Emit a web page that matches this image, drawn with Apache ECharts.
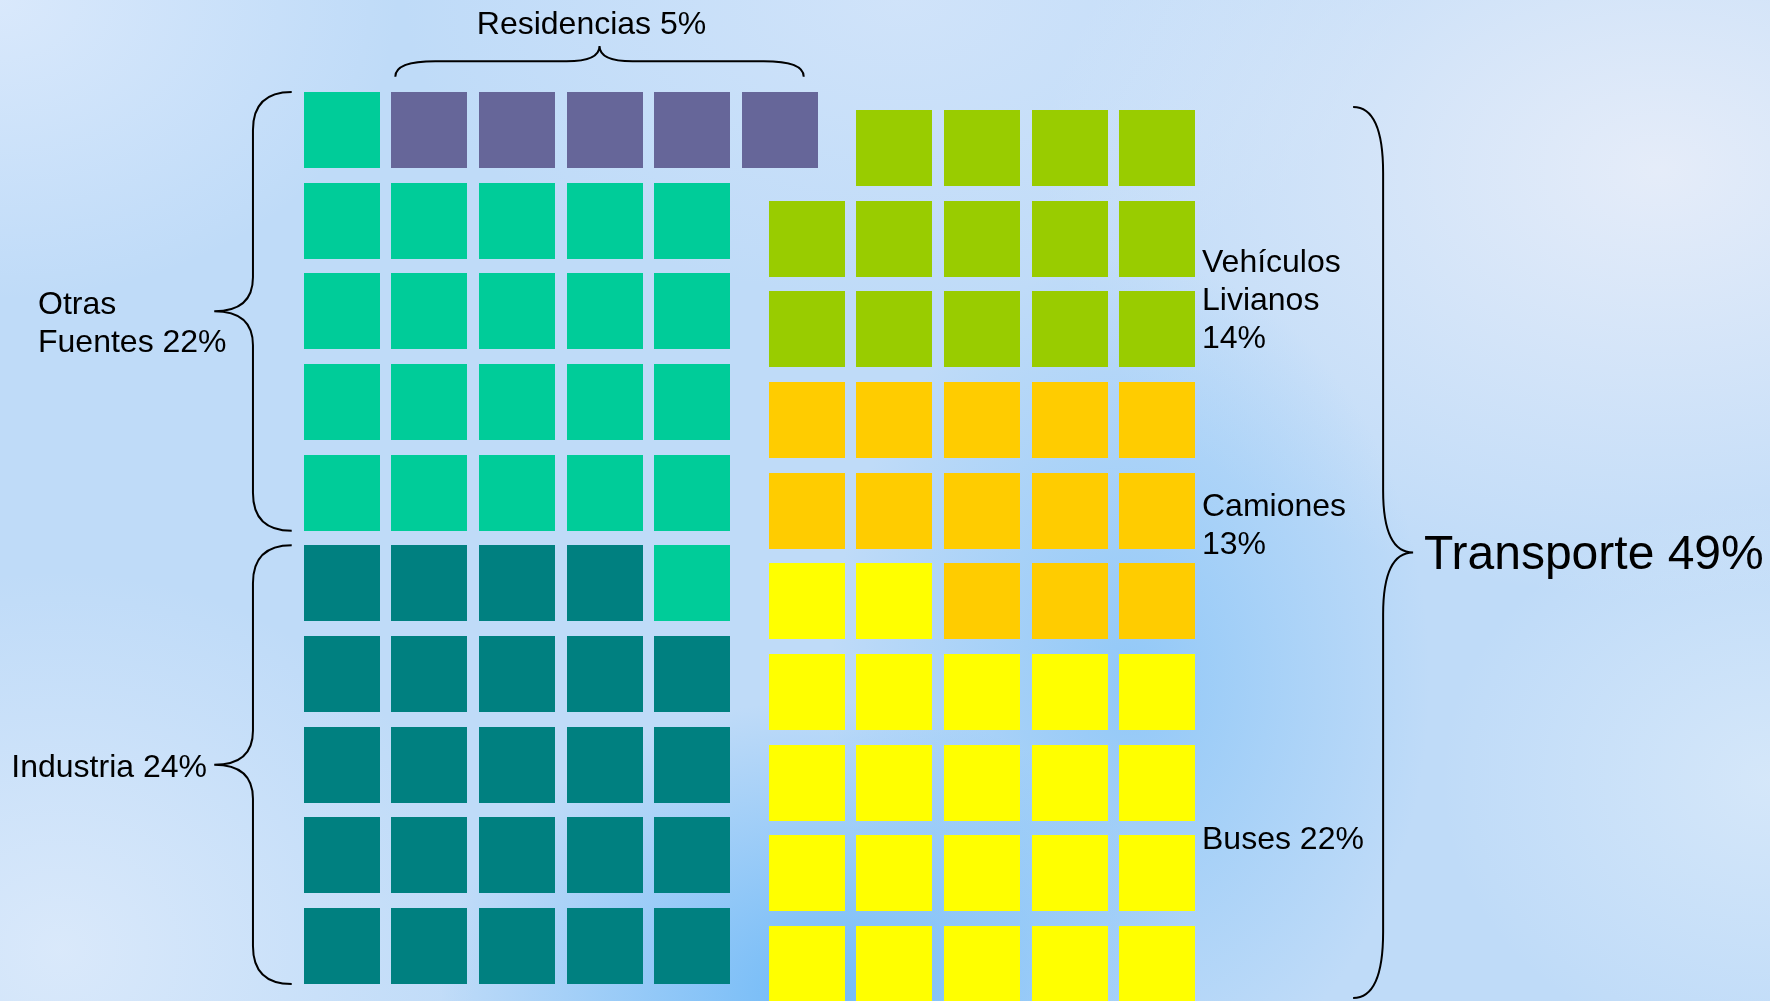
<!DOCTYPE html>
<html>
<head>
<meta charset="utf-8">
<title>Fuentes de emisión</title>
<script src="https://cdn.jsdelivr.net/npm/echarts@6/dist/echarts.min.js"></script>
<style>
  html, body { margin: 0; padding: 0; width: 1770px; height: 1001px; overflow: hidden; }
  #chart {
    width: 1770px; height: 1001px;
    background:
      radial-gradient(ellipse 380px 300px at 820px 1001px, rgba(108,184,247,0.95), rgba(108,184,247,0)),
      radial-gradient(ellipse 300px 420px at 1130px 680px, rgba(138,197,247,0.85), rgba(138,197,247,0)),
      radial-gradient(ellipse 620px 430px at 1660px 170px, rgba(233,238,249,0.9), rgba(233,238,249,0)),
      radial-gradient(ellipse 330px 280px at 1770px 780px, rgba(222,236,250,0.7), rgba(222,236,250,0)),
      radial-gradient(ellipse 420px 380px at 60px 950px, rgba(222,235,251,0.85), rgba(222,235,251,0)),
      radial-gradient(ellipse 400px 300px at 0px 0px, rgba(220,234,252,0.9), rgba(220,234,252,0)),
      radial-gradient(ellipse 500px 300px at 900px 0px, rgba(212,229,250,0.8), rgba(212,229,250,0)),
      #bfdbf8;
  }
</style>
</head>
<body>
<div id="chart"></div>
<script>
// Emission sources; one cell per percentage point
const sources = ['Otras Fuentes', 'Residencias', 'Industria', 'Vehículos Livianos', 'Camiones', 'Buses'];
const shares  = [22, 5, 24, 14, 13, 22];

// Order in which each block is filled, bottom row first, left to right
const leftStack  = ['Industria', 'Otras Fuentes', 'Residencias'];
const rightStack = ['Buses', 'Camiones', 'Vehículos Livianos'];
const groupName  = 'Transporte';

const palette = {
  'Otras Fuentes': '#00CC99',
  'Residencias': '#666699',
  'Industria': '#008080',
  'Vehículos Livianos': '#99CC00',
  'Camiones': '#FFCC00',
  'Buses': '#FFFF00'
};

const shareOf = name => shares[sources.indexOf(name)];

// Grid geometry in axis units: one x unit = one column step, one y unit = one row step
const COLS = 5, ROWS = 10;
const CELL_W = 0.8676, CELL_H = 0.838;
const RIGHT_X = 5.308, RIGHT_Y = -0.1985;

// 'extend': cells past the 5x10 grid continue the top row to the right
// 'alignRight': an incomplete top row is pushed against the right edge
function placeBlock(stack, originX, originY, mode) {
  const total = stack.reduce((s, n) => s + shareOf(n), 0);
  const lastRow = Math.floor((total - 1) / COLS);
  const rem = total % COLS;
  const cells = [];
  let i = 0;
  stack.forEach(name => {
    for (let k = 0; k < shareOf(name); k++, i++) {
      let row = Math.floor(i / COLS), col = i % COLS;
      if (mode === 'extend' && row >= ROWS) { row = ROWS - 1; col = COLS + (i - ROWS * COLS); }
      if (mode === 'alignRight' && row === lastRow && rem) col += COLS - rem;
      cells.push({ name, row, col, x: originX + col, y: originY + row });
    }
  });
  return cells;
}

const leftCells = placeBlock(leftStack, 0, 0, 'extend');
const rightCells = placeBlock(rightStack, RIGHT_X, RIGHT_Y, 'alignRight');
const allCells = leftCells.concat(rightCells);

// Rows in which `name` has more cells than each rival
function majorityRows(cells, name, rivals) {
  const rows = [];
  for (let r = 0; r < ROWS; r++) {
    const inRow = cells.filter(c => c.row === r);
    const count = n => inRow.filter(c => c.name === n).length;
    if (rivals.every(o => count(name) > count(o))) rows.push(r);
  }
  return [Math.min(...rows), Math.max(...rows)];
}

const otrasRows = majorityRows(leftCells, 'Otras Fuentes', ['Industria']);
const indRows = majorityRows(leftCells, 'Industria', ['Otras Fuentes']);
const resCells = leftCells.filter(c => c.name === 'Residencias');
const resX0 = Math.min(...resCells.map(c => c.x));
const resX1 = Math.max(...resCells.map(c => c.x)) + CELL_W;
const resTop = Math.max(...resCells.map(c => c.y)) + CELL_H;
const rightEdge = Math.max(...rightCells.map(c => c.x)) + CELL_W;
const rightTop = Math.max(...rightCells.map(c => c.y)) + CELL_H;
const rightBottom = Math.min(...rightCells.map(c => c.y));

// Brace spans [xA, yA, xB, yB] in axis units, with their drawing style
const braces = [
  { span: [0, otrasRows[1] + CELL_H, 0, otrasRows[0]], orient: 'left', gap: 12, depth: 77.5, c: 38, cm: 34, padA: 0, padB: 0 },
  { span: [0, indRows[1] + CELL_H, 0, indRows[0]], orient: 'left', gap: 12, depth: 77.5, c: 38, cm: 34, padA: 0, padB: 0 },
  { span: [rightEdge, rightTop, rightEdge, rightBottom], orient: 'right', gap: 158, depth: 60, c: 66, cm: 62, padA: -3, padB: 4 },
  { span: [resX0, resTop, resX1, resTop], orient: 'up', gap: 15.3, depth: 30.7, c: 40, cm: 33, padA: 4, padB: 14 }
];

function bracePathV(xEnd, xTip, yTop, yBot, c, cm) {
  const xm = (xEnd + xTip) / 2, ym = (yTop + yBot) / 2;
  return 'M' + xEnd + ',' + yTop +
    ' Q' + xm + ',' + yTop + ' ' + xm + ',' + (yTop + c) +
    ' L' + xm + ',' + (ym - cm) +
    ' Q' + xm + ',' + ym + ' ' + xTip + ',' + ym +
    ' Q' + xm + ',' + ym + ' ' + xm + ',' + (ym + cm) +
    ' L' + xm + ',' + (yBot - c) +
    ' Q' + xm + ',' + yBot + ' ' + xEnd + ',' + yBot;
}
function bracePathH(x0, x1, yEnd, yTip, c, cm) {
  const ym = (yEnd + yTip) / 2, xm = (x0 + x1) / 2;
  return 'M' + x0 + ',' + yEnd +
    ' Q' + x0 + ',' + ym + ' ' + (x0 + c) + ',' + ym +
    ' L' + (xm - cm) + ',' + ym +
    ' Q' + xm + ',' + ym + ' ' + xm + ',' + yTip +
    ' Q' + xm + ',' + ym + ' ' + (xm + cm) + ',' + ym +
    ' L' + (x1 - c) + ',' + ym +
    ' Q' + x1 + ',' + ym + ' ' + x1 + ',' + yEnd;
}

const FONT = '"Liberation Sans", Arial, Helvetica, sans-serif';

// Label text: name, optional line break, percentage
const labelBreaks = { 'Otras Fuentes': 'Otras\nFuentes', 'Vehículos Livianos': 'Vehículos\nLivianos' };
const pctOwnLine = { 'Vehículos Livianos': true, 'Camiones': true };
const labelText = name => (labelBreaks[name] || name) + (pctOwnLine[name] ? '\n' : ' ') + shareOf(name) + '%';

const labelSpots = {
  'Otras Fuentes': { x: 38, y: 324.5, align: 'left' },
  'Industria': { x: 207, y: 768.5, align: 'right' },
  'Residencias': { x: 591.5, y: 25, align: 'center' },
  'Vehículos Livianos': { x: 1202, y: 301.5, align: 'left' },
  'Camiones': { x: 1202, y: 526.5, align: 'left' },
  'Buses': { x: 1202, y: 840, align: 'left' }
};
const groupTotal = rightStack.reduce((s, n) => s + shareOf(n), 0);

const textEls = sources.map(name => {
  const s = labelSpots[name];
  return {
    type: 'text', silent: true,
    style: {
      text: labelText(name), x: s.x, y: s.y,
      fill: '#000', fontSize: 32, fontFamily: FONT, lineHeight: 38,
      textAlign: s.align, textVerticalAlign: 'middle'
    }
  };
});
textEls.push({
  type: 'text', silent: true,
  style: {
    text: groupName + ' ' + groupTotal + '%', x: 1424, y: 555.5,
    fill: '#000', fontSize: 48, fontFamily: FONT,
    textAlign: 'left', textVerticalAlign: 'middle'
  }
});

const cellSeries = sources.map(name => ({
  type: 'custom',
  name: name,
  silent: true,
  data: allCells.filter(c => c.name === name).map(c => [c.x, c.y]),
  renderItem: (params, api) => {
    const tl = api.coord([api.value(0), api.value(1) + CELL_H]);
    const size = api.size([CELL_W, CELL_H]);
    return {
      type: 'rect',
      shape: { x: Math.round(tl[0]), y: Math.round(tl[1]), width: Math.round(size[0]), height: Math.round(size[1]) },
      style: { fill: palette[name] }
    };
  }
}));

const braceSeries = {
  type: 'custom',
  name: 'llaves',
  silent: true,
  data: braces.map(b => b.span),
  renderItem: (params, api) => {
    const b = braces[params.dataIndex];
    const a = api.coord([api.value(0), api.value(1)]);
    const z = api.coord([api.value(2), api.value(3)]);
    let d;
    if (b.orient === 'left') {
      const xEnd = a[0] - b.gap;
      d = bracePathV(xEnd, xEnd - b.depth, a[1] + b.padA, z[1] - b.padB, b.c, b.cm);
    } else if (b.orient === 'right') {
      const xEnd = a[0] + b.gap;
      d = bracePathV(xEnd, xEnd + b.depth, a[1] + b.padA, z[1] - b.padB, b.c, b.cm);
    } else {
      const yEnd = a[1] - b.gap;
      d = bracePathH(a[0] + b.padA, z[0] - b.padB, yEnd, yEnd - b.depth, b.c, b.cm);
    }
    return {
      type: 'path',
      shape: { pathData: d },
      style: { fill: null, stroke: '#000', lineWidth: 2 }
    };
  }
};

const chart = echarts.init(document.getElementById('chart'), null, { renderer: 'canvas' });
chart.setOption({
  backgroundColor: 'transparent',
  animation: false,
  grid: { left: 0, right: 0, top: 0, bottom: 0, containLabel: false },
  xAxis: { type: 'value', min: -3.4669, max: 16.738, show: false },
  yAxis: { type: 'value', min: -0.1875, max: 10.8525, show: false },
  series: cellSeries.concat([braceSeries]),
  graphic: { elements: textEls }
});
</script>
</body>
</html>
